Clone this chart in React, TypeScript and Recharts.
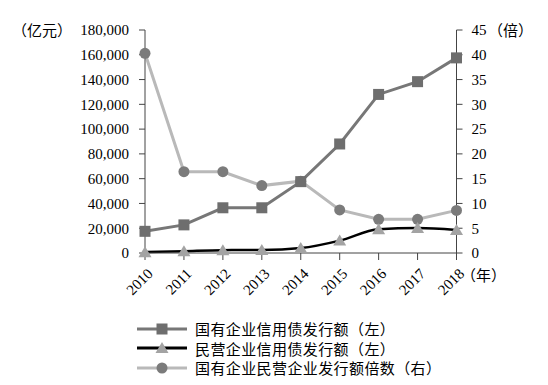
import React from "react";
import { LineChart, Line, XAxis, YAxis } from "recharts";

const years = ["2010", "2011", "2012", "2013", "2014", "2015", "2016", "2017", "2018"];
const stateOwned = [17500, 22700, 36500, 36500, 57600, 88000, 128000, 138300, 157500];
const privateOwned = [700, 1500, 2300, 2400, 4000, 10000, 19200, 20200, 18600];
const ratio = [40.3, 16.4, 16.4, 13.6, 14.5, 8.7, 6.8, 6.8, 8.6];

const leftTicks = [0, 20000, 40000, 60000, 80000, 100000, 120000, 140000, 160000, 180000];
const rightTicks = [0, 5, 10, 15, 20, 25, 30, 35, 40, 45];

const seriesNames = ["国有企业信用债发行额（左）", "民营企业信用债发行额（左）", "国有企业民营企业发行额倍数（右）"];

const FONT = "'Liberation Serif', 'Noto Sans CJK SC', serif";
const AXIS = "#444";
const SQ = "#6e6e6e";
const SQ_LINE = "#777";
const TRI = "#a3a3a3";
const CIRC = "#7b7b7b";
const CIRC_LINE = "#b9b9b9";

const data = years.map((y, i) => ({
  year: y,
  soe: stateOwned[i],
  pe: privateOwned[i],
  ratio: ratio[i],
}));

const Square = (p: any) => (
  <rect key={`sq-${p.index}`} x={p.cx - 5.5} y={p.cy - 5.5} width={11} height={11} fill={SQ} />
);
const Triangle = (p: any) => (
  <path
    key={`tr-${p.index}`}
    d={`M${p.cx},${p.cy - 6} L${p.cx + 6.5},${p.cy + 5} L${p.cx - 6.5},${p.cy + 5} Z`}
    fill={TRI}
  />
);
const Circle = (p: any) => <circle key={`ci-${p.index}`} cx={p.cx} cy={p.cy} r={5.5} fill={CIRC} />;

const YearTick = ({ x, y, payload }: any) => (
  <g transform={`translate(${x + 5},${y + 9}) rotate(-45)`}>
    <text textAnchor="end" dy="0.35em" fontSize={15} fontFamily={FONT} fill="#000">
      {payload.value}
    </text>
  </g>
);

const fmt = (v: number) => v.toLocaleString("en-US");

const cjk: any = { fontSize: 15, whiteSpace: "nowrap" };

// unit label; the opening paren gets its own box so line-start trimming can't pull the text left
function Unit({ text, left, top }: { text: string; left: number; top: number }) {
  return (
    <div style={{ ...cjk, position: "absolute", left, top }}>
      <span style={{ display: "inline-block", width: 15, textAlign: "right" }}>（</span>
      {text}）
    </div>
  );
}

function LegendRow({ name, kind, line }: { name: string; kind: string; line: string }) {
  return (
    <div style={{ display: "flex", alignItems: "center", height: 19.5 }}>
      <svg width={52} height={14} style={{ marginRight: 6 }}>
        <line x1={0} y1={7} x2={50} y2={7} stroke={line} strokeWidth={3} />
        {kind === "sq" && <rect x={19.5} y={1.5} width={11} height={11} fill={SQ} />}
        {kind === "tri" && <path d="M25,1 L31.5,12 L18.5,12 Z" fill={TRI} />}
        {kind === "ci" && <circle cx={25} cy={7} r={5.5} fill={CIRC} />}
      </svg>
      <span style={{ ...cjk, letterSpacing: 0.4 }}>{name}</span>
    </div>
  );
}

export default function App() {
  return (
    <div style={{ position: "absolute", left: 0, top: 0, width: 548, height: 385, background: "#fff", fontFamily: FONT }}>
      <LineChart width={548} height={300} data={data} margin={{ top: 30, right: 31.5, bottom: 7, left: 85 }}>
        <XAxis
          dataKey="year"
          height={40}
          tick={<YearTick />}
          tickLine={{ stroke: AXIS }}
          axisLine={{ stroke: AXIS }}
          tickSize={7}
          interval={0}
        />
        <YAxis
          yAxisId="left"
          width={60}
          domain={[0, 180000]}
          ticks={leftTicks}
          tickFormatter={fmt}
          tick={{ fill: "#000", fontSize: 15, fontFamily: FONT }}
          tickLine={{ stroke: AXIS }}
          axisLine={{ stroke: AXIS }}
          tickSize={6}
          tickMargin={10}
          interval={0}
        />
        <YAxis
          yAxisId="right"
          orientation="right"
          width={60}
          domain={[0, 45]}
          ticks={rightTicks}
          tick={{ fill: "#000", fontSize: 15, fontFamily: FONT, textAnchor: "start" }}
          tickLine={{ stroke: AXIS }}
          axisLine={{ stroke: AXIS }}
          tickSize={6}
          tickMargin={9}
          interval={0}
        />
        <Line
          yAxisId="right"
          dataKey="ratio"
          stroke={CIRC_LINE}
          strokeWidth={3}
          dot={Circle}
          activeDot={false}
          isAnimationActive={false}
        />
        <Line
          yAxisId="left"
          dataKey="soe"
          stroke={SQ_LINE}
          strokeWidth={3}
          dot={Square}
          activeDot={false}
          isAnimationActive={false}
        />
        <Line
          yAxisId="left"
          type="monotone"
          dataKey="pe"
          stroke="#000"
          strokeWidth={2.5}
          dot={Triangle}
          activeDot={false}
          isAnimationActive={false}
        />
      </LineChart>
      <Unit text="亿元" left={12} top={19} />
      <Unit text="倍" left={488} top={19} />
      <Unit text="年" left={461} top={264} />
      <div style={{ position: "absolute", left: 137, top: 319, color: "#000" }}>
        <LegendRow name={seriesNames[0]} kind="sq" line={SQ_LINE} />
        <LegendRow name={seriesNames[1]} kind="tri" line="#000" />
        <LegendRow name={seriesNames[2]} kind="ci" line={CIRC_LINE} />
      </div>
    </div>
  );
}
